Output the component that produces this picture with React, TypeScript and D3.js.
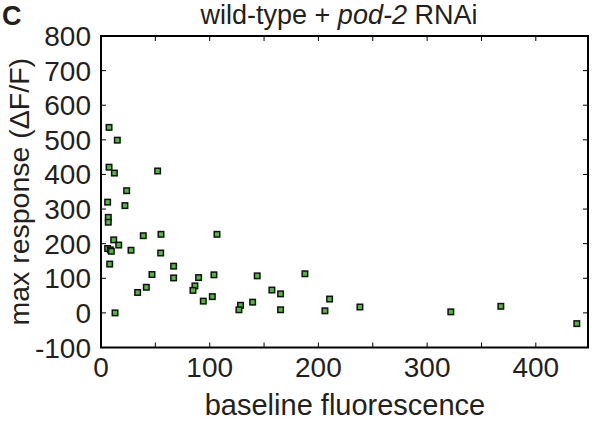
import React from "react";
import * as d3 from "d3";

const xValues = [7.4, 15.0, 7.4, 12.3, 52.1, 23.6, 6.1, 22, 6.7, 6.7, 38.9, 55.2, 11.7, 16.3, 6.1, 8.6, 9.5, 27.6, 54.9, 8, 46.9, 66.8, 66.8, 41.7, 33.7, 12.9, 106.7, 89.8, 103.9, 86.4, 84.6, 102.4, 94.1, 143.7, 157.2, 165.2, 165.2, 139.5, 128.4, 126.9, 187.6, 210.3, 206, 238.2, 321.8, 367.8, 437.7];
const yValues = [536, 499, 421, 404, 410, 353, 320, 310, 276, 262, 223, 227, 211, 196, 186, 182, 178, 181, 173, 141, 111, 135, 101, 74, 59, 0, 227, 102, 110, 78, 65, 47, 34, 107, 66, 55, 9, 31, 22, 9, 113, 40, 6, 17, 3, 19, -31];
const xTickLabels = [0, 100, 200, 300, 400];
const xMinorTicks = [0, 50, 100, 150, 200, 250, 300, 350, 400];
const yTicks = [-100, 0, 100, 200, 300, 400, 500, 600, 700, 800];

const W = 592, H = 423;
const L = 101, R = 588, T = 36, B = 347.5;
const FONT = "Arial, 'Liberation Sans', Helvetica, sans-serif";

export default function App() {
  const x = d3.scaleLinear().domain([0, 448]).range([L, R]);
  const y = d3.scaleLinear().domain([-100, 800]).range([B, T]);
  const tk = 5;
  const ms = 5.5;
  return (
    <svg width={W} height={H} style={{ position: "absolute", left: 0, top: 0, background: "#fff" }} fontFamily={FONT}>
      <text x={2} y={25} fontSize={27} fontWeight="bold" fill="#231f20">C</text>
      <text x={339} y={24} fontSize={27} textAnchor="middle" fill="#231f20">
        wild-type + <tspan fontStyle="italic">pod-2</tspan> RNAi
      </text>
      {xMinorTicks.map((t) => (
        <g key={"xt" + t}>
          <line x1={x(t)} x2={x(t)} y1={B} y2={B - tk} stroke="#000" strokeWidth={1} />
          <line x1={x(t)} x2={x(t)} y1={T} y2={T + tk} stroke="#000" strokeWidth={1} />
        </g>
      ))}
      {yTicks.map((t) => (
        <g key={"yt" + t}>
          <line x1={L} x2={L + tk} y1={y(t)} y2={y(t)} stroke="#000" strokeWidth={1} />
          <line x1={R} x2={R - tk} y1={y(t)} y2={y(t)} stroke="#000" strokeWidth={1} />
        </g>
      ))}
      <rect x={L} y={T} width={R - L} height={B - T} fill="none" stroke="#000" strokeWidth={2} />
      {xTickLabels.map((t) => (
        <text key={"xl" + t} x={x(t)} y={377} fontSize={28} textAnchor="middle" fill="#231f20">{t}</text>
      ))}
      {yTicks.map((t) => (
        <text key={"yl" + t} x={91} y={y(t) + 10} fontSize={28} textAnchor="end" fill="#231f20">{t}</text>
      ))}
      <text x={345} y={415} fontSize={29} textAnchor="middle" fill="#231f20">baseline fluorescence</text>
      <text transform={`translate(29,${(T + B) / 2}) rotate(-90)`} fontSize={28.5} textAnchor="middle" fill="#231f20">max response (ΔF/F)</text>
      {xValues.map((v, i) => (
        <rect key={"p" + i} x={x(v) - ms / 2} y={y(yValues[i]) - ms / 2} width={ms} height={ms} fill="#52b83f" stroke="#111" strokeWidth={1.5} />
      ))}
    </svg>
  );
}
